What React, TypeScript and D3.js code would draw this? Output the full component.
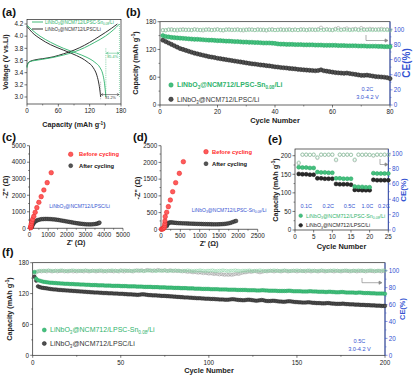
import React from 'react';
import * as d3 from 'd3';

// ---------------- DATA ----------------
// (a) charge / discharge profiles [capacity, voltage]
const aGreenCharge: [number, number][] = [[0,3.48],[2,3.55],[5,3.58],[15,3.6],[30,3.62],[50,3.65],[70,3.69],[90,3.74],[110,3.81],[130,3.9],[150,4.0],[165,4.1],[177,4.2]];
const aBlackCharge: [number, number][] = [[0,3.5],[2,3.56],[5,3.58],[15,3.61],[30,3.63],[50,3.66],[70,3.71],[90,3.77],[110,3.85],[130,3.95],[150,4.06],[162,4.13],[173,4.2]];
const aGreenDis: [number, number][] = [[0,4.18],[10,4.1],[25,4.0],[45,3.9],[70,3.8],[95,3.72],[115,3.65],[130,3.57],[140,3.48],[145,3.38],[148,3.25],[150,3.1],[151,3.0]];
const aBlackDis: [number, number][] = [[0,4.16],[10,4.06],[25,3.96],[45,3.86],[70,3.77],[95,3.68],[115,3.58],[127,3.48],[134,3.35],[138,3.2],[140,3.08],[141,3.0]];
const aIce = ['85.4%', '81.2%'];

// (b) 0.2C cycling, 80 cycles
const bGreenCap = [150,148,147,146,145.5,145,144.5,144,143.5,143,142.5,142,142,141.5,141,140.5,140,140,139.5,139,139,138.5,138,138,137.5,137,137,136.5,136,136,135.5,135.5,135,135,134.5,134,134,134,133.5,133,132,131.5,131.5,131,131,131,130.5,130.5,130.5,130,130,130,130,129.5,129.5,129.5,129,129,129,129,129,128.5,128.5,128.5,128,128,128,128,127.5,127.5,127.5,127,127,127,127,126.5,126.5,126,126,126];
const bBlackCap = [140,137,134,131,128,125,122,120,118,116,114,112,110.5,109,107.5,106,104.5,103.5,102.5,101,100,99,98,97,96,95,94,93,92,91,90,89,88.5,87.5,86.5,86,85,84.5,83.5,82.5,82,81,80.5,80,79,78.5,78,77,76.5,76,75.5,75,74.5,74,74.5,76,74,73,72,71,70,69.5,69,68.5,69,68,67,66,65,64,64,64.5,63.5,62.5,61.5,61,60.5,60,59,57];
const bGreenCE = [98.5,99,99.5,99,99,99.5,99,99,99.5,99,99,99.5,99,99,99.5,99.5,99,99,99,99.5,99,99,99.5,99,99.5,99,99,99,99.5,99,99,99.5,99,99,99,99.5,99,99.5,99,99,99,99,99.5,99,99,99,99.5,99,99,99.5,99,99,99.5,99.5,99,99,99,99.5,99,99,99.5,99,99,99.5,99,99,99,99.5,99,99,99,99.5,99,99,99.5,99,99,99.5,99,98.5];
const bGrayCE = [99,98.5,99.5,100,99,98.5,99.5,100,99,99.5,99,100,99.5,99,98.5,99.5,100,99,99.5,100,99,98.5,99.5,100,99,99.5,100,99,98.5,99.5,100,99.5,99,100,99.5,99,98.5,99.5,100,99,99.5,100,99,99.5,100,99,99.5,99,100,99.5,99,100,99.5,99,100,102,99.5,100,99.5,99,100.5,101.5,99.5,100,101,99.5,100,100.5,99.5,101.5,100,99.5,100.5,100,99.5,100,100.5,99.5,100,99];

// (c) EIS LPSC
const cBefore: [number, number][] = [[60,30],[65,60],[75,110],[85,180],[100,282],[130,403],[170,544],[230,726],[304,968],[393,1250],[500,1573],[625,1915],[768,2319],[946,2762],[1161,3367]];
const cAfter: [number, number][] = [[120,60],[150,150],[190,250],[240,340],[300,410],[370,460],[450,500],[540,530],[640,550],[740,560],[840,565],[940,565],[1040,560],[1140,555],[1240,545],[1340,535],[1440,520],[1540,505],[1640,485],[1740,465],[1840,445],[1940,425],[2040,405],[2140,385],[2240,365],[2340,345],[2440,325],[2540,305],[2640,290],[2740,275],[2840,262],[2940,250],[3040,243],[3140,238],[3240,236],[3340,240],[3440,250],[3540,265],[3620,285],[3690,310],[3740,340]];

// (d) EIS LPSC-Sn0.08
const dBefore: [number, number][] = [[10,3],[30,8],[50,15],[70,30],[85,60],[95,110],[100,170],[103,250],[110,378],[147,508],[190,677],[241,876],[302,1125],[379,1394],[474,1673],[578,2022]];
const dAfter: [number, number][] = [[150,100],[170,150],[190,185],[215,200],[245,205],[280,205],[320,200],[360,195],[400,190],[450,185],[500,182],[550,180],[600,178],[650,175],[700,173],[750,170],[800,168],[850,166],[900,164],[950,162],[1000,160],[1050,158],[1100,156],[1150,155],[1200,153],[1250,152],[1300,151],[1350,150],[1400,150],[1450,150],[1500,151],[1550,153],[1600,157],[1650,162],[1700,170],[1750,180],[1800,195],[1850,215],[1900,235],[1940,250]];

// (e) rate capability, 25 cycles
const eGreenCap = [169,168,168,167,167,156,155,155,154,154,139,139,138,138,138,117,116,116,115,115,153,152,152,152,152];
const eBlackCap = [151,150,150,149,149,139,139,138,138,138,124,123,123,123,122,108,108,107,107,107,135,134,134,134,134];
const eGrayCE = [87,98,98,98,98,94,98,98,98,98,91,98,98,98,98,91,98,98,98,98,97,98,98,98,98];
const eGreenCE = [88,98.5,98.5,98,98.5,95,98.5,98,98.5,98.5,92,98.5,98,98.5,98,92,98.5,98,98.5,98,97.5,98.5,98,98.5,98];
const eRates = ['0.1C', '0.2C', '0.5C', '1.0C', '0.2C'];
const eRateCenters = [3, 8.9, 14.6, 19.4, 23.8];

// (f) 0.5C cycling, 200 cycles
const fGreenCap = [162,149,146,145,144,143,142.5,142,141.5,141,141,140.5,140.5,140,140,139.5,139.5,139,139,139,138.5,138.5,138.5,138,138,138,137.5,137.5,137.5,137,137,137,136.5,136.5,136.5,136.5,136,136,136,136,135.5,135.5,135.5,135.5,135,135,135,135,135,134.5,134.5,134.5,134.5,134,134,134,134,134,133.5,133.5,133.5,133.5,133,133,133,133,133,132.5,132.5,132.5,132.5,132,132,132,132,131.5,131.5,131.5,131.5,131,131,131,131,130.5,130.5,130.5,130.5,130,130,130,130,129.5,129.5,129.5,129.5,129,129,129,129,129,128.5,128.5,128.5,128.5,128.5,128,128,128,128,128,127.5,127.5,127.5,127.5,127.5,127,127,127,127,127,127,126.5,126.5,126.5,126.5,126.5,126,126,126,126.5,126.5,126,126,125.5,125.5,125.5,125.5,125.5,125,125,125,125,125,125,125.5,125.5,125,124.5,124.5,124.5,124.5,124.5,124,124,124,124,124.5,124.5,124,124,124,123.5,123.5,123.5,123.5,123,123,123.5,123.5,123,123,122.5,122.5,122.5,123,123,122.5,122,122,122,122,122,121.5,121.5,122,122,121.5,121,121,121,121,120.5,120.5,120.5,120,120,120,120,120,119.5];
const fBlackCap = [153,145,134,132.5,131.5,131,130.5,130,129.5,129,128.5,128,128,127.5,127,127,126.5,126.5,126,126,125.5,125.5,125,125,124.5,124.5,124,124,123.5,123.5,123,123,122.5,122.5,122,122,122,121.5,121.5,121,121,121,120.5,120.5,120.5,120,120,120,119.5,119.5,119.5,119,119,118.5,118.5,118.5,118,118,117.5,117.5,118,118.5,118.5,118,117.5,117,117,116.5,116.5,116.5,116,116,115.5,115.5,115.5,115,115,114.5,114.5,114,114,113.5,113.5,113,113,112.5,112.5,112.5,112,112,111.5,111.5,111,111,111,110.5,110.5,110,110,110,109.5,109.5,109.5,109,109,108.5,108.5,108.5,108,108,108,108.5,109,109,108.5,108,107.5,107.5,107,107,107.5,108,108,107.5,107,106.5,106,106.5,107,107.5,107,106,105.5,105.5,105.5,106,106,105.5,105,104.5,104.5,104,104,104.5,105,105,104.5,104,103.5,103.5,103,103,102.5,102.5,102.5,103,103,102.5,102,102,101.5,101.5,101.5,101,101,101,101.5,101.5,101,100.5,100.5,100,100,100,100,100.5,100,99.5,99.5,99,99,99,98.5,98.5,98.5,98,98,98,97.5,97.5,97.5,97,97,97,96.5,96.5,96.5,96,96,96];
const fGreenCE = [96,99,99.5,100,100,99.5,100,100,100.5,100,100,99.5,100,100,100,100.5,100,100,99.5,100,100,100,100.5,100,100,99.5,100,100,100,100.5,100,100,99.5,100,100,100,100,100.5,100,100,99.5,100,100,100,100.5,100,100,99.5,100,100,100,100.5,100,100,100,99.5,100,100,100,100.5,100,100,99.5,100,100,100,100.5,100,100,99.5,100,100,100,100,100.5,100,99.5,100,100,100,100.5,100,100,99.5,100,100,100,100.5,100,100,99.5,100,100,100,100.5,100,100,99.5,100,100,100,100.5,100,99.5,100,100,100,100.5,100,100,99.5,100,100,100,100.5,100,100,99.5,100,100,100,100,100.5,100,99.5,100,100,100,100.5,100,100,99.5,100,100,100,100,100.5,100,100,99.5,100,100,100.5,100,100,99.5,100,100,100,100.5,100,100,99.5,100,100,100,100.5,100,100,100,99.5,100,100,100.5,100,100,99.5,100,100,100,100.5,100,100,99.5,100,100,100,100.5,100,100,99.5,100,100,100,100.5,100,100,99.5,100,100,100,100.5,100,100,99.5,100,100,100,100.5,100];
const fGrayCE = [92,98,99,99.5,99,100,99.5,99,100,99.5,99,99.5,100,99,99.5,99.5,100,99,99.5,99,99.5,100,99,99.5,99,100,99.5,99.5,99,100,99.5,99,99.5,100,99.5,99,99.5,99.5,100,99,99.5,99,100,99.5,99.5,99,100,99.5,99,100.5,99.5,99,100,99.5,100,99.5,99,100,100.5,99.5,100,100.5,99.5,100,101,100.5,100,99.5,100.5,100,101,100.5,100,100,100.5,99.5,100,100.5,100,99.5,100,99.5,100,99.5,99,99.5,99,98.5,99,98.5,98,98.5,98,97.5,98,97.5,97,97.5,97,96.5,97,96.5,96,96.5,96,95.5,96,95.5,95,95.5,95,95.5,95,95.5,96,96.5,96,97,97.5,98,98,98.5,99,98.5,99,99.5,99,98.5,98,98.5,99,99.5,99,99.5,100,99.5,99,99.5,100,99.5,99,99.5,100,99.5,99,99.5,99.5,100,99.5,99,99.5,100,99.5,99.5,99,100,99.5,99,99.5,100,99.5,99,99.5,100,99.5,99,99.5,99.5,100,99.5,99,99.5,100,99.5,99,99.5,100,99.5,99.5,99,99.5,100,99.5,99,99.5,99.5,100,99.5,99,99.5,100,99.5,99.5,99,99.5,100,99.5,99,99.5,100];

// ---------------- STYLE ----------------
const FONT = 'Arial, "Liberation Sans", Helvetica, sans-serif';
const TXT = '#222';
const GREEN = '#45c17f';
const GREEN_S = '#22a05c';
const GREEN_T = '#2fb36c';
const BLK = '#505050';
const BLK_S = '#1c1c1c';
const CE_G = '#86d3a2';
const CE_K = '#8a8a8a';
const RED = '#ff5a5a';
const RED_S = '#e52222';
const BLUE = '#3453d1';

function YTicks({ s, x, ticks, side = 'left', color = TXT, fs = 6.3, minor = [] as number[], len = 2.5, fmt = (v: number) => String(v) }: any) {
  const dir = side === 'left' ? -1 : 1;
  return (
    <g>
      {ticks.map((t: number) => (
        <g key={'t' + t}>
          <line x1={x} x2={x + dir * len} y1={s(t)} y2={s(t)} stroke={color} strokeWidth={0.6} />
          <text x={x + dir * (len + 1.3)} y={s(t)} dy="0.36em" fontSize={fs} fill={color} textAnchor={side === 'left' ? 'end' : 'start'}>{fmt(t)}</text>
        </g>
      ))}
      {minor.map((t: number) => (
        <line key={'m' + t} x1={x} x2={x + dir * len * 0.6} y1={s(t)} y2={s(t)} stroke={color} strokeWidth={0.5} />
      ))}
    </g>
  );
}

function XTicks({ s, y, ticks, labelY, color = TXT, fs = 6.3, minor = [] as number[], len = 2.5, fmt = (v: number) => String(v) }: any) {
  return (
    <g>
      {ticks.map((t: number) => (
        <g key={'t' + t}>
          <line x1={s(t)} x2={s(t)} y1={y} y2={y + len} stroke={color} strokeWidth={0.6} />
          <text x={s(t)} y={labelY} fontSize={fs} fill={color} textAnchor="middle">{fmt(t)}</text>
        </g>
      ))}
      {minor.map((t: number) => (
        <line key={'m' + t} x1={s(t)} x2={s(t)} y1={y} y2={y + len * 0.6} stroke={color} strokeWidth={0.5} />
      ))}
    </g>
  );
}

function Chem({ x, y, sn, fs, fill, weight = 'normal' }: any) {
  const sub = fs * 0.66;
  const d = fs * 0.28;
  return (
    <text x={x} y={y} dy="0.35em" fontSize={fs} fill={fill} fontWeight={weight}>
      LiNbO<tspan fontSize={sub} dy={d}>3</tspan><tspan dy={-d}>@NCM712/LPSC</tspan>
      {sn ? (
        <>
          <tspan>-Sn</tspan><tspan fontSize={sub} dy={d}>0.08</tspan><tspan dy={-d}>/Li</tspan>
        </>
      ) : (
        <tspan>/Li</tspan>
      )}
    </text>
  );
}

function CapTitle({ x, y, fs = 7.2 }: any) {
  return (
    <text transform={`translate(${x},${y}) rotate(-90)`} textAnchor="middle" fontSize={fs} fontWeight="bold" fill={TXT}>
      Capacity (mAh g<tspan fontSize={fs * 0.65} dy={-fs * 0.35}>-1</tspan><tspan dy={fs * 0.35}>)</tspan>
    </text>
  );
}

function VTitle({ x, y, text, fs = 7.2, color = TXT, weight = 'bold' }: any) {
  return (
    <text transform={`translate(${x},${y}) rotate(-90)`} textAnchor="middle" fontSize={fs} fontWeight={weight} fill={color}>{text}</text>
  );
}

function Arrow({ x0, y0, y1, x1 }: any) {
  return (
    <g stroke="#8a8a8a" strokeWidth={0.7} fill="none">
      <path d={`M${x0},${y0} V${y1} H${x1 - 2}`} />
      <path d={`M${x1 - 3},${y1 - 1.6} L${x1},${y1} L${x1 - 3},${y1 + 1.6} Z`} fill="#8a8a8a" />
    </g>
  );
}

function Dots({ data, x, y, r, fill, stroke, sw = 0.5 }: any) {
  return (
    <g>
      {data.map((d: [number, number], i: number) => (
        <circle key={i} cx={x(d[0])} cy={y(d[1])} r={r} fill={fill} stroke={stroke} strokeWidth={sw} />
      ))}
    </g>
  );
}

const idx = (arr: number[]) => arr.map((v, i) => [i + 1, v] as [number, number]);

export default function App() {
  const xA = d3.scaleLinear().domain([0, 180]).range([27, 121]);
  const yA = d3.scaleLinear().domain([3.0, 4.2]).range([97, 24]);
  const lineA = d3.line<[number, number]>().x((d) => xA(d[0])).y((d) => yA(d[1])).curve(d3.curveMonotoneX);

  const xB = d3.scaleLinear().domain([0, 80]).range([160, 390]);
  const yB = d3.scaleLinear().domain([0, 180]).range([105, 21.7]);
  const yBr = d3.scaleLinear().domain([0, 110]).range([105, 21.7]);

  const xC = d3.scaleLinear().domain([0, 5000]).range([29.5, 123]);
  const yC = d3.scaleLinear().domain([0, 5000]).range([228.3, 145.7]);

  const xD = d3.scaleLinear().domain([0, 2500]).range([161, 257.7]);
  const yD = d3.scaleLinear().domain([0, 2500]).range([229.3, 145.7]);

  const xE = d3.scaleLinear().domain([0, 25]).range([295, 388.3]);
  const yE = d3.scaleLinear().domain([0, 200]).range([230, 155.7]);
  const yEr = d3.scaleLinear().domain([0, 100]).range([230, 153.3]);

  const xF = d3.scaleLinear().domain([0, 200]).range([32.7, 385]);
  const yF = d3.scaleLinear().domain([0, 180]).range([355.3, 262.7]);
  const yFr = d3.scaleLinear().domain([0, 100]).range([355.3, 270.7]);

  const lbl = (t: string, x: number, y: number) => (
    <text x={x} y={y} fontSize={11.5} fontWeight="bold" fill="#111">{t}</text>
  );

  return (
    <svg width={416} height={376} viewBox="0 0 416 376" style={{ position: 'absolute', left: 0, top: 0, background: '#fff' }} fontFamily={FONT}>
      <rect x={0} y={0} width={416} height={376} fill="#fff" />
      {/* ================= (a) ================= */}
      {lbl('(a)', 2, 16)}
      <rect x={27} y={19.5} width={94} height={84.5} fill="none" stroke={TXT} strokeWidth={0.7} />
      <YTicks s={yA} x={27} ticks={[3.0, 3.2, 3.4, 3.6, 3.8, 4.0, 4.2]} fmt={(v: number) => v.toFixed(1)} />
      <XTicks s={xA} y={104} ticks={[0, 60, 120, 180]} minor={[30, 90, 150]} labelY={113} />
      <path d={lineA(aBlackCharge) || ''} fill="none" stroke="#1a1a1a" strokeWidth={0.9} />
      <path d={lineA(aBlackDis) || ''} fill="none" stroke="#1a1a1a" strokeWidth={0.9} />
      <path d={lineA(aGreenCharge) || ''} fill="none" stroke={GREEN_T} strokeWidth={0.9} />
      <path d={lineA(aGreenDis) || ''} fill="none" stroke={GREEN_T} strokeWidth={0.9} />
      <line x1={xA(151)} x2={xA(151)} y1={yA(3.8)} y2={yA(3.0)} stroke={GREEN_T} strokeWidth={0.5} strokeDasharray="1.2,1" />
      <line x1={xA(177)} x2={xA(177)} y1={yA(4.2)} y2={yA(3.0)} stroke={GREEN_T} strokeWidth={0.5} strokeDasharray="1,1" />
      <line x1={xA(141)} x2={xA(141)} y1={yA(3.25)} y2={yA(2.95)} stroke="#666" strokeWidth={0.5} strokeDasharray="1,1" />
      <line x1={xA(152)} x2={xA(176)} y1={yA(3.72)} y2={yA(3.72)} stroke={GREEN_T} strokeWidth={0.5} />
      <path d={`M${xA(152) + 2},${yA(3.72) - 1.2} L${xA(152)},${yA(3.72)} L${xA(152) + 2},${yA(3.72) + 1.2} M${xA(176) - 2},${yA(3.72) - 1.2} L${xA(176)},${yA(3.72)} L${xA(176) - 2},${yA(3.72) + 1.2}`} stroke={GREEN_T} strokeWidth={0.5} fill="none" />
      <text x={xA(164)} y={yA(3.72) + 5} fontSize={3.8} fill={GREEN_T} textAnchor="middle">{aIce[0]}</text>
      <line x1={xA(142)} x2={xA(176)} y1={yA(3.04)} y2={yA(3.04)} stroke="#222" strokeWidth={0.5} />
      <path d={`M${xA(142) + 2},${yA(3.04) - 1.2} L${xA(142)},${yA(3.04)} L${xA(142) + 2},${yA(3.04) + 1.2} M${xA(176) - 2},${yA(3.04) - 1.2} L${xA(176)},${yA(3.04)} L${xA(176) - 2},${yA(3.04) + 1.2}`} stroke="#222" strokeWidth={0.5} fill="none" />
      <text x={xA(160)} y={yA(3.04) + 4.6} fontSize={3.8} fill="#333" textAnchor="middle">{aIce[1]}</text>
      <line x1={32} x2={43} y1={22} y2={22} stroke={GREEN_T} strokeWidth={0.9} />
      <Chem x={45} y={22} sn fs={4.6} fill={GREEN_T} />
      <line x1={32} x2={43} y1={29} y2={29} stroke="#1a1a1a" strokeWidth={0.9} />
      <Chem x={45} y={29} fs={4.6} fill="#333" />
      <VTitle x={7.5} y={62} text="Voltage (V vs.Li)" />
      <text x={74} y={127} textAnchor="middle" fontSize={7.2} fontWeight="bold" fill={TXT}>
        Capacity (mAh g<tspan fontSize={4.7} dy={-2.5}>-1</tspan><tspan dy={2.5}>)</tspan>
      </text>

      {/* ================= (b) ================= */}
      {lbl('(b)', 126, 16)}
      <rect x={160} y={21.7} width={230} height={83.3} fill="none" stroke={TXT} strokeWidth={0.7} />
      <line x1={390} x2={390} y1={21.7} y2={105} stroke={BLUE} strokeWidth={0.8} />
      <YTicks s={yB} x={160} ticks={[0, 60, 120, 180]} minor={[30, 90, 150]} />
      <YTicks s={yBr} x={390} side="right" color={BLUE} ticks={[0, 20, 40, 60, 80, 100]} minor={[10, 30, 50, 70, 90]} />
      <XTicks s={xB} y={105} ticks={[0, 20, 40, 60, 80]} minor={[10, 30, 50, 70]} labelY={114} />
      <Dots data={idx(bGrayCE)} x={xB} y={yBr} r={1.7} fill="none" stroke={CE_K} sw={0.5} />
      <Dots data={idx(bGreenCE)} x={xB} y={yBr} r={1.7} fill="none" stroke={CE_G} sw={0.55} />
      <Dots data={idx(bBlackCap)} x={xB} y={yB} r={2.1} fill={BLK} stroke={BLK_S} />
      <Dots data={idx(bGreenCap)} x={xB} y={yB} r={2.1} fill={GREEN} stroke={GREEN_S} />
      <Arrow x0={366} y0={35} y1={40.5} x1={388} />
      <circle cx={171} cy={85} r={2.2} fill={GREEN} stroke={GREEN_S} strokeWidth={0.5} />
      <Chem x={177} y={85} sn fs={6.9} fill={GREEN_T} weight="bold" />
      <circle cx={171} cy={99.3} r={2.2} fill={BLK} stroke={BLK_S} strokeWidth={0.5} />
      <Chem x={177} y={99.3} fs={6.8} fill="#333" />
      <text x={367.5} y={91} fontSize={5.6} fill={BLUE} textAnchor="middle">0.2C</text>
      <text x={367.5} y={99} fontSize={5.6} fill={BLUE} textAnchor="middle">3.0-4.2 V</text>
      <CapTitle x={137.5} y={63} />
      <VTitle x={410} y={63} text="CE(%)" fs={10} color={BLUE} />
      <text x={275} y={123} textAnchor="middle" fontSize={7.4} fontWeight="bold" fill={TXT}>Cycle Number</text>

      {/* ================= (c) ================= */}
      {lbl('(c)', 2, 141)}
      <line x1={29.5} x2={29.5} y1={145.7} y2={228.3} stroke={TXT} strokeWidth={0.7} />
      <line x1={29.5} x2={123} y1={228.3} y2={228.3} stroke={TXT} strokeWidth={0.7} />
      <YTicks s={yC} x={29.5} ticks={[0, 1000, 2000, 3000, 4000, 5000]} minor={[500, 1500, 2500, 3500, 4500]} />
      <XTicks s={xC} y={228.3} ticks={[0, 1000, 2000, 3000, 4000, 5000]} minor={[500, 1500, 2500, 3500, 4500]} labelY={236.5} />
      <Dots data={cAfter} x={xC} y={yC} r={1.9} fill="#555" stroke="#222" />
      <Dots data={cBefore} x={xC} y={yC} r={2.3} fill={RED} stroke={RED_S} />
      <circle cx={70.7} cy={154.3} r={2.3} fill={RED} stroke={RED_S} strokeWidth={0.5} />
      <text x={79} y={154.3} dy="0.35em" fontSize={5.8} fontWeight="bold" fill="#ff2a2a">Before cycling</text>
      <circle cx={70.7} cy={165.7} r={2} fill="#555" stroke="#222" strokeWidth={0.5} />
      <text x={79} y={165.7} dy="0.35em" fontSize={5.8} fontWeight="bold" fill="#111">After cycling</text>
      <Chem x={49.3} y={206.3} fs={5} fill={BLUE} />
      <VTitle x={7.5} y={187} text="-Z'' (Ω)" />
      <text x={76} y={245} textAnchor="middle" fontSize={7.2} fontWeight="bold" fill={TXT}>Z' (Ω)</text>

      {/* ================= (d) ================= */}
      {lbl('(d)', 133, 141)}
      <line x1={161} x2={161} y1={145.7} y2={229.3} stroke={TXT} strokeWidth={0.7} />
      <line x1={161} x2={257.7} y1={229.3} y2={229.3} stroke={TXT} strokeWidth={0.7} />
      <YTicks s={yD} x={161} ticks={[0, 500, 1000, 1500, 2000, 2500]} minor={[250, 750, 1250, 1750, 2250]} />
      <XTicks s={xD} y={229.3} ticks={[0, 500, 1000, 1500, 2000, 2500]} minor={[250, 750, 1250, 1750, 2250]} labelY={237.5} />
      <Dots data={dAfter} x={xD} y={yD} r={1.9} fill="#555" stroke="#222" />
      <Dots data={dBefore} x={xD} y={yD} r={2.3} fill={RED} stroke={RED_S} />
      <circle cx={206} cy={151.7} r={2.3} fill={RED} stroke={RED_S} strokeWidth={0.5} />
      <text x={212} y={151.7} dy="0.35em" fontSize={5.8} fontWeight="bold" fill="#ff2a2a">Before cycling</text>
      <circle cx={206} cy={163.7} r={2} fill="#555" stroke="#222" strokeWidth={0.5} />
      <text x={212} y={163.7} dy="0.35em" fontSize={5.8} fontWeight="bold" fill="#111">After cycling</text>
      <Chem x={191.7} y={210.3} sn fs={5} fill={BLUE} />
      <VTitle x={140} y={188} text="-Z'' (Ω)" />
      <text x={209} y={246} textAnchor="middle" fontSize={7.2} fontWeight="bold" fill={TXT}>Z' (Ω)</text>

      {/* ================= (e) ================= */}
      {lbl('(e)', 268, 143)}
      <rect x={295} y={149} width={93.3} height={81} fill="none" stroke={TXT} strokeWidth={0.7} />
      <line x1={388.3} x2={388.3} y1={149} y2={230} stroke={BLUE} strokeWidth={0.8} />
      <YTicks s={yE} x={295} ticks={[0, 50, 100, 150, 200]} minor={[25, 75, 125, 175]} />
      <YTicks s={yEr} x={388.3} side="right" color={BLUE} ticks={[0, 20, 40, 60, 80, 100]} minor={[10, 30, 50, 70, 90]} />
      <XTicks s={xE} y={230} ticks={[0, 5, 10, 15, 20, 25]} labelY={238.5} />
      <Dots data={idx(eGrayCE)} x={xE} y={yEr} r={1.7} fill="none" stroke={CE_K} sw={0.5} />
      <Dots data={idx(eGreenCE)} x={xE} y={yEr} r={1.7} fill="none" stroke={CE_G} sw={0.5} />
      <Dots data={idx(eBlackCap)} x={xE} y={yE} r={2} fill="#2a2a2a" stroke="#111" />
      <Dots data={idx(eGreenCap)} x={xE} y={yE} r={2} fill={GREEN} stroke={GREEN_S} />
      <Arrow x0={380} y0={159} y1={164.5} x1={388} />
      {eRates.map((r, i) => (
        <text key={i} x={xE(eRateCenters[i])} y={208} fontSize={5.5} fill={BLUE} textAnchor="middle">{r}</text>
      ))}
      <circle cx={300.7} cy={215.7} r={1.8} fill={GREEN} stroke={GREEN_S} strokeWidth={0.5} />
      <Chem x={306} y={215.7} sn fs={5.3} fill={GREEN_T} />
      <circle cx={300.7} cy={225.3} r={1.8} fill="#2a2a2a" stroke="#111" strokeWidth={0.5} />
      <Chem x={306} y={225.3} fs={5.3} fill="#222" />
      <CapTitle x={277.5} y={190} />
      <VTitle x={405.5} y={190} text="CE(%)" fs={8} color={BLUE} />
      <text x={341.5} y={249} textAnchor="middle" fontSize={7.4} fontWeight="bold" fill={TXT}>Cycle Number</text>

      {/* ================= (f) ================= */}
      {lbl('(f)', 2, 256)}
      <rect x={32.7} y={262.7} width={352.3} height={92.6} fill="none" stroke={TXT} strokeWidth={0.7} />
      <line x1={385} x2={385} y1={262.7} y2={355.3} stroke={BLUE} strokeWidth={0.8} />
      <YTicks s={yF} x={32.7} ticks={[0, 60, 120, 180]} minor={[30, 90, 150]} />
      <YTicks s={yFr} x={385} side="right" color={BLUE} ticks={[0, 20, 40, 60, 80, 100]} minor={[10, 30, 50, 70, 90]} />
      <XTicks s={xF} y={355.3} ticks={[0, 50, 100, 150, 200]} minor={[25, 75, 125, 175]} labelY={364.5} />
      <Dots data={idx(fGrayCE)} x={xF} y={yFr} r={1.5} fill="none" stroke={CE_K} sw={0.45} />
      <Dots data={idx(fGreenCE)} x={xF} y={yFr} r={1.5} fill="none" stroke={CE_G} sw={0.5} />
      <Dots data={idx(fBlackCap)} x={xF} y={yF} r={1.8} fill={BLK} stroke={BLK_S} sw={0.45} />
      <Dots data={idx(fGreenCap)} x={xF} y={yF} r={1.8} fill={GREEN} stroke={GREEN_S} sw={0.45} />
      <Arrow x0={362} y0={278} y1={282.7} x1={382} />
      <circle cx={44.3} cy={330} r={2} fill={GREEN} stroke={GREEN_S} strokeWidth={0.5} />
      <Chem x={50} y={330} sn fs={7} fill={GREEN_T} />
      <circle cx={44.3} cy={343.5} r={2} fill={BLK} stroke={BLK_S} strokeWidth={0.5} />
      <Chem x={50} y={343.5} fs={7} fill="#333" />
      <text x={359.5} y={342.5} fontSize={5.6} fill={BLUE} textAnchor="middle">0.5C</text>
      <text x={359.5} y={350.5} fontSize={5.6} fill={BLUE} textAnchor="middle">3.0-4.2 V</text>
      <CapTitle x={12} y={309} />
      <VTitle x={404.5} y={309} text="CE(%)" fs={7.4} color={BLUE} />
      <text x={209} y={373} textAnchor="middle" fontSize={7.4} fontWeight="bold" fill={TXT}>Cycle Number</text>
    </svg>
  );
}
